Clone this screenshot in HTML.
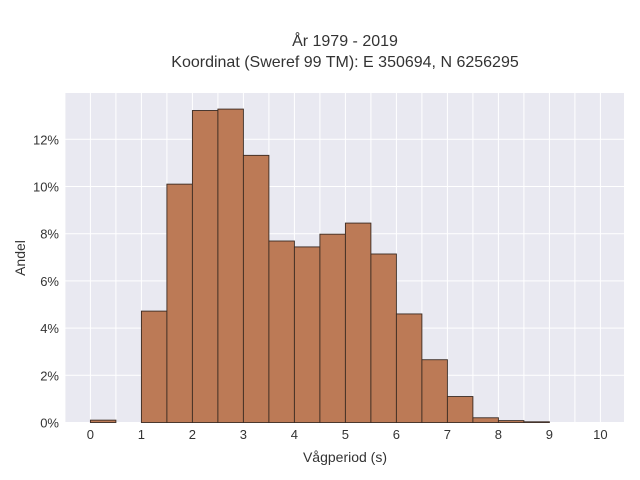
<!DOCTYPE html>
<html><head><meta charset="utf-8"><style>
body{margin:0;background:#fff;}
svg{display:block;font-family:"Liberation Sans",sans-serif;}
</style></head><body>
<svg id="chart" width="640" height="480">
<text x="345" y="46" text-anchor="middle" font-size="16" fill="#333">År 1979 - 2019</text>
<text x="345" y="67" text-anchor="middle" font-size="16" fill="#333">Koordinat (Sweref 99 TM): E 350694, N 6256295</text>
<rect x="65" y="93" width="559" height="330" fill="#e9e9f1"/>
<g id="grid"></g><g id="bars"></g><g id="ticks"></g>
<text x="345" y="462" text-anchor="middle" font-size="14" fill="#333">Vågperiod (s)</text>
<text transform="translate(25,258) rotate(-90)" text-anchor="middle" font-size="14" fill="#333">Andel</text>
</svg>
<script>
const binStarts=[0,0.5,1,1.5,2,2.5,3,3.5,4,4.5,5,5.5,6,6.5,7,7.5,8,8.5];
const shares=[0.1,0,4.72,10.1,13.22,13.28,11.32,7.69,7.44,7.98,8.45,7.14,4.6,2.66,1.1,0.2,0.08,0.03];
const xTicks=[0,1,2,3,4,5,6,7,8,9,10];
const yTicks=[0,2,4,6,8,10,12];
const binWidth=0.5;
const NS="http://www.w3.org/2000/svg";
const xs=v=>90.4+v*51;
const ys=v=>422.5-v*23.6;
const grid=document.getElementById('grid'),bars=document.getElementById('bars'),ticks=document.getElementById('ticks');
function mk(tag,attrs,parent){const e=document.createElementNS(NS,tag);for(const k in attrs)e.setAttribute(k,attrs[k]);parent.appendChild(e);return e;}
for(let v=-0.5;v<=10.5;v+=0.5){const l=mk('line',{x1:xs(v),x2:xs(v),y1:93,y2:423,stroke:'#fff','stroke-width':1},grid);

}
yTicks.forEach(t=>{const l=mk('line',{x1:65,x2:624,y1:ys(t),y2:ys(t),stroke:'#fff','stroke-width':1},grid);


const tx=mk('text',{x:59,y:ys(t)+5,'text-anchor':'end','font-size':13,fill:'#333'},ticks);tx.textContent=t+'%';

});
xTicks.forEach(t=>{const tx=mk('text',{x:xs(t),y:439,'text-anchor':'middle','font-size':13,fill:'#333'},ticks);tx.textContent=t;

});
binStarts.forEach((b,i)=>{if(shares[i]<=0)return;const r=mk('rect',{x:xs(b),y:ys(shares[i]),width:xs(b+binWidth)-xs(b),height:ys(0)-ys(shares[i]),fill:'#bc7a56',stroke:'#3a2a22','stroke-width':0.9},bars);

});
</script>
</body></html>
